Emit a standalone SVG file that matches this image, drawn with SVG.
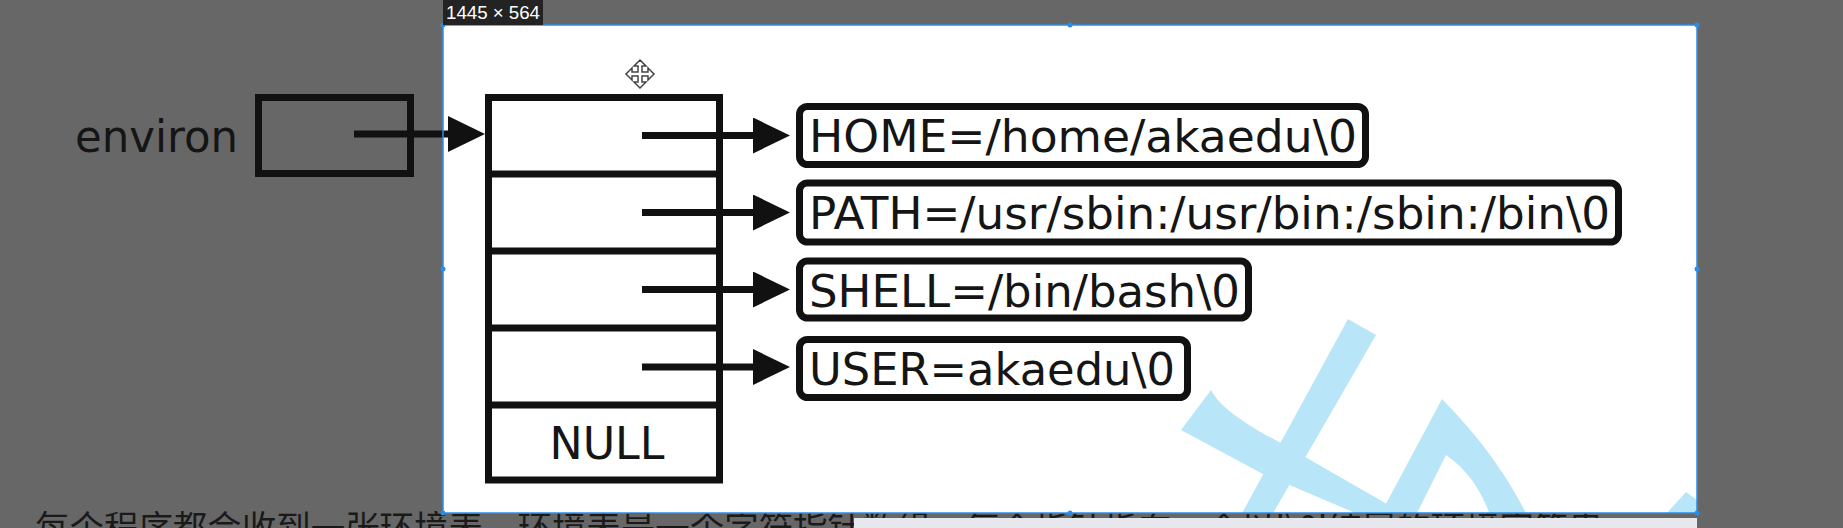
<svg xmlns="http://www.w3.org/2000/svg" width="1843" height="528" viewBox="0 0 1843 528">
  <style>
    .box { fill: none; stroke: #111; stroke-width: 7; }
    .str { fill: #fff; stroke: #111; stroke-width: 7; }
    .cell { stroke: #111; stroke-width: 7; }
    .lbl { font-family: "DejaVu Sans", "Liberation Sans", sans-serif; font-size: 45px; fill: #151515; }
    .wire { stroke: #111; stroke-width: 7; fill: none; }
    .wm { fill: #b8e6f8; }
    .sel { fill: none; stroke: #2a8ee8; stroke-width: 1.5; }
    .handle { fill: #2a8ee8; }
  </style>
  <defs>
    <marker id="arrow" markerUnits="userSpaceOnUse" markerWidth="40" markerHeight="38" refX="7" refY="18" orient="auto">
      <path d="M0,0 L37,18 L0,36 Z" fill="#111"/>
    </marker>
    <clipPath id="imgclip">
      <rect x="443" y="25" width="1254" height="488"/>
    </clipPath>
  </defs>

  <!-- screen background -->
  <rect x="0" y="0" width="1843" height="528" fill="#676767"/>

  <!-- page text behind the image -->
  <text x="35" y="541" font-family="'Noto Sans CJK SC', 'Noto Sans', sans-serif" font-size="35" fill="#1a1a1a" textLength="1568" lengthAdjust="spacingAndGlyphs">每个程序都会收到一张环境表，环境表是一个字符指针数组，每个指针指向一个以'\0'结尾的环境字符串</text>
  <rect x="854" y="518" width="843" height="10" fill="#e7e7ee"/>

  <!-- image area -->
  <rect x="443" y="25" width="1254" height="488" fill="#ffffff"/>

  <!-- watermark fragment -->
  <g clip-path="url(#imgclip)">
    <polygon class="wm" points="1348,319 1376,335 1272,515 1241,515"/>
    <path class="wm" d="M1211,390 C1218,404 1240,422 1279,442 L1387,504 L1398,515 L1360,515 L1261,473 L1181,430 Z"/>
    <path class="wm" d="M1442,399 C1470,428 1500,462 1527,515 L1490,515 C1482,492 1468,470 1446,455 L1416,515 L1380,515 Z"/>
    <polygon class="wm" points="1686,492 1697,500 1697,515 1665,515"/>
  </g>

  <!-- environ -->
  <g id="node-environ">
    <text class="lbl" x="75" y="152" textLength="163" lengthAdjust="spacingAndGlyphs" fill="#1a1a1a">environ</text>
    <rect class="box" x="258.5" y="97.5" width="152" height="76"/>
  </g>

  <!-- array of pointers -->
  <g id="node-array">
    <rect x="488.5" y="97.5" width="231" height="382.5" fill="#fff" stroke="#111" stroke-width="7"/>
    <line class="cell" x1="488.5" y1="174" x2="719.5" y2="174"/>
    <line class="cell" x1="488.5" y1="251" x2="719.5" y2="251"/>
    <line class="cell" x1="488.5" y1="328" x2="719.5" y2="328"/>
    <line class="cell" x1="488.5" y1="405" x2="719.5" y2="405"/>
    <text class="lbl" x="607" y="459" text-anchor="middle" textLength="115" lengthAdjust="spacingAndGlyphs">NULL</text>
  </g>

  <!-- strings -->
  <g id="node-home">
    <rect class="str" x="799.5" y="106.5" width="566" height="58" rx="8"/>
    <text class="lbl" x="809" y="152" textLength="548" lengthAdjust="spacingAndGlyphs">HOME=/home/akaedu\0</text>
  </g>
  <g id="node-path">
    <rect class="str" x="799.5" y="183" width="819" height="59" rx="8"/>
    <text class="lbl" x="809" y="229" textLength="801" lengthAdjust="spacingAndGlyphs">PATH=/usr/sbin:/usr/bin:/sbin:/bin\0</text>
  </g>
  <g id="node-shell">
    <rect class="str" x="799.5" y="261" width="449" height="57" rx="8"/>
    <text class="lbl" x="809" y="306.5" textLength="431" lengthAdjust="spacingAndGlyphs">SHELL=/bin/bash\0</text>
  </g>
  <g id="node-user">
    <rect class="str" x="799.5" y="339.5" width="388" height="58" rx="8"/>
    <text class="lbl" x="809" y="385" textLength="366" lengthAdjust="spacingAndGlyphs">USER=akaedu\0</text>
  </g>

  <!-- connectors -->
  <g id="connectors">
    <line class="wire" x1="354" y1="134" x2="455" y2="134" marker-end="url(#arrow)"/>
    <line class="wire" x1="642" y1="135.5" x2="760" y2="135.5" marker-end="url(#arrow)"/>
    <line class="wire" x1="642" y1="212.5" x2="760" y2="212.5" marker-end="url(#arrow)"/>
    <line class="wire" x1="642" y1="289.5" x2="760" y2="289.5" marker-end="url(#arrow)"/>
    <line class="wire" x1="642" y1="367" x2="760" y2="367" marker-end="url(#arrow)"/>
  </g>

  <!-- selection frame -->
  <rect class="sel" x="443" y="25" width="1254" height="488"/>
  <circle class="handle" cx="443" cy="25" r="2.5"/>
  <circle class="handle" cx="1070" cy="25" r="2.5"/>
  <circle class="handle" cx="1697" cy="25" r="2.5"/>
  <circle class="handle" cx="443" cy="269" r="2.5"/>
  <circle class="handle" cx="1697" cy="269" r="2.5"/>
  <circle class="handle" cx="443" cy="513" r="2.5"/>
  <circle class="handle" cx="1070" cy="513" r="2.5"/>
  <circle class="handle" cx="1697" cy="513" r="2.5"/>

  <!-- size label -->
  <rect x="443" y="0" width="100" height="25" fill="#232323"/>
  <text x="446" y="19" font-family="'Liberation Sans', Arial, sans-serif" font-size="19" fill="#ffffff" textLength="94" lengthAdjust="spacingAndGlyphs">1445 × 564</text>

  <!-- move cursor -->
  <path transform="translate(640,74)" d="M0,-14 L6,-8 L2,-8 L2,-2 L8,-2 L8,-6 L14,0 L8,6 L8,2 L2,2 L2,8 L6,8 L0,14 L-6,8 L-2,8 L-2,2 L-8,2 L-8,6 L-14,0 L-8,-6 L-8,-2 L-2,-2 L-2,-8 L-6,-8 Z" fill="#fff" stroke="#444" stroke-width="1.5"/>
</svg>
